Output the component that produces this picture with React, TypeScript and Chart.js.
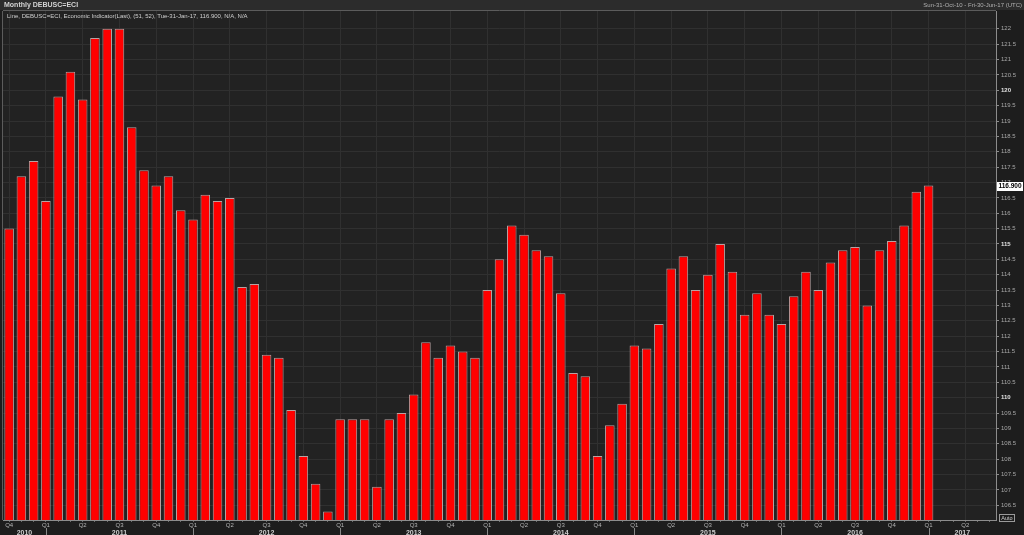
import React, { useEffect, useRef } from 'react';
import { Chart, registerables } from 'chart.js';

Chart.register(...registerables);

// ---- Data ----
const MONTHS = [
  'Oct-10', 'Nov-10', 'Dec-10',
  'Jan-11', 'Feb-11', 'Mar-11', 'Apr-11', 'May-11', 'Jun-11', 'Jul-11', 'Aug-11', 'Sep-11', 'Oct-11', 'Nov-11', 'Dec-11',
  'Jan-12', 'Feb-12', 'Mar-12', 'Apr-12', 'May-12', 'Jun-12', 'Jul-12', 'Aug-12', 'Sep-12', 'Oct-12', 'Nov-12', 'Dec-12',
  'Jan-13', 'Feb-13', 'Mar-13', 'Apr-13', 'May-13', 'Jun-13', 'Jul-13', 'Aug-13', 'Sep-13', 'Oct-13', 'Nov-13', 'Dec-13',
  'Jan-14', 'Feb-14', 'Mar-14', 'Apr-14', 'May-14', 'Jun-14', 'Jul-14', 'Aug-14', 'Sep-14', 'Oct-14', 'Nov-14', 'Dec-14',
  'Jan-15', 'Feb-15', 'Mar-15', 'Apr-15', 'May-15', 'Jun-15', 'Jul-15', 'Aug-15', 'Sep-15', 'Oct-15', 'Nov-15', 'Dec-15',
  'Jan-16', 'Feb-16', 'Mar-16', 'Apr-16', 'May-16', 'Jun-16', 'Jul-16', 'Aug-16', 'Sep-16', 'Oct-16', 'Nov-16', 'Dec-16',
  'Jan-17', 'Feb-17', 'Mar-17', 'Apr-17', 'May-17', 'Jun-17',
];

const VALUES: (number | null)[] = [
  115.5, 117.2, 117.7,
  116.4, 119.8, 120.6, 119.7, 121.7, 122.0, 122.0, 118.8, 117.4, 116.9, 117.2, 116.1,
  115.8, 116.6, 116.4, 116.5, 113.6, 113.7, 111.4, 111.3, 109.6, 108.1, 107.2, 106.3,
  109.3, 109.3, 109.3, 107.1, 109.3, 109.5, 110.1, 111.8, 111.3, 111.7, 111.5, 111.3,
  113.5, 114.5, 115.6, 115.3, 114.8, 114.6, 113.4, 110.8, 110.7, 108.1, 109.1, 109.8,
  111.7, 111.6, 112.4, 114.2, 114.6, 113.5, 114.0, 115.0, 114.1, 112.7, 113.4, 112.7,
  112.4, 113.3, 114.1, 113.5, 114.4, 114.8, 114.9, 113.0, 114.8, 115.1, 115.6, 116.7,
  116.9, null, null, null, null, null,
];

const Y_TICKS = [
  106.5, 107, 107.5, 108, 108.5, 109, 109.5, 110, 110.5, 111, 111.5, 112, 112.5, 113, 113.5,
  114, 114.5, 115, 115.5, 116, 116.5, 117, 117.5, 118, 118.5, 119, 119.5, 120, 120.5, 121, 121.5, 122,
];

const QUARTER_OF: Record<string, string> = {
  Jan: 'Q1', Apr: 'Q2', Jul: 'Q3', Oct: 'Q4',
};

const TITLE = 'Monthly DEBUSC=ECI';
const LEGEND_TEXT = 'Line, DEBUSC=ECI, Economic Indicator(Last), (51, 52), Tue-31-Jan-17, 116.900, N/A, N/A';
const RANGE_TEXT = 'Sun-31-Oct-10 - Fri-30-Jun-17 (UTC)';
const LAST_VALUE = 116.9;
const LAST_LABEL = '116.900';

const FONT = '"Liberation Sans", Arial, sans-serif';

const overlayPlugin = {
  id: 'overlay',
  beforeDraw(chart: any) {
    const { ctx, chartArea: a } = chart;
    ctx.save();
    ctx.fillStyle = '#1d1d1d';
    ctx.fillRect(0, 0, chart.width, chart.height);
    ctx.fillStyle = '#2c2c2c';
    ctx.fillRect(0, 0, chart.width, a.top - 1);
    ctx.fillStyle = '#222222';
    ctx.fillRect(a.left, a.top, a.right - a.left, a.bottom - a.top);
    ctx.restore();
  },
  afterDraw(chart: any) {
    const { ctx, chartArea: a } = chart;
    const xs = chart.scales.x;
    const ys = chart.scales.y;
    ctx.save();

    // frame top / left
    ctx.strokeStyle = '#5c5c5c';
    ctx.lineWidth = 1;
    ctx.beginPath();
    ctx.moveTo(a.left, a.top - 0.5);
    ctx.lineTo(a.right, a.top - 0.5);
    ctx.moveTo(a.left - 0.5, a.top);
    ctx.lineTo(a.left - 0.5, a.bottom);
    ctx.stroke();

    // header
    ctx.textBaseline = 'middle';
    ctx.textAlign = 'left';
    ctx.fillStyle = '#d2d2d2';
    ctx.font = `bold 7px ${FONT}`;
    ctx.fillText(TITLE, 4, 5);
    ctx.textAlign = 'right';
    ctx.fillStyle = '#b0b0b0';
    ctx.font = `6px ${FONT}`;
    ctx.fillText(RANGE_TEXT, 1022, 5.5);

    // legend line
    ctx.textAlign = 'left';
    ctx.fillStyle = '#cfcfcf';
    ctx.font = `6px ${FONT}`;
    ctx.fillText(LEGEND_TEXT, 7, 16);

    // quarter labels
    ctx.textAlign = 'center';
    ctx.font = `6px ${FONT}`;
    ctx.fillStyle = '#b4b4b4';
    MONTHS.forEach((m, i) => {
      const q = QUARTER_OF[m.slice(0, 3)];
      if (q) {
        ctx.fillText(q, xs.getPixelForValue(i), 525.5);
      }
    });

    // year labels and year ticks
    const janIdx: number[] = [];
    MONTHS.forEach((m, i) => { if (m.startsWith('Jan')) janIdx.push(i); });
    const years: { label: string; from: number; to: number }[] = [];
    const firstYear = '20' + MONTHS[0].slice(4);
    years.push({ label: firstYear, from: a.left, to: janIdx.length ? xs.getPixelForValue(janIdx[0]) : a.right });
    janIdx.forEach((ji, k) => {
      const from = xs.getPixelForValue(ji);
      const to = k + 1 < janIdx.length ? xs.getPixelForValue(janIdx[k + 1]) : a.right;
      years.push({ label: '20' + MONTHS[ji].slice(4), from, to });
    });
    ctx.font = `bold 7px ${FONT}`;
    ctx.fillStyle = '#cdcdcd';
    years.forEach((y) => {
      ctx.fillText(y.label, (y.from + y.to) / 2, 533);
    });
    ctx.strokeStyle = '#8a8a8a';
    ctx.beginPath();
    janIdx.forEach((ji) => {
      const x = Math.round(xs.getPixelForValue(ji)) + 0.5;
      ctx.moveTo(x, 528);
      ctx.lineTo(x, 535);
    });
    ctx.stroke();

    // last value box
    const yv = ys.getPixelForValue(LAST_VALUE);
    ctx.fillStyle = '#ffffff';
    ctx.fillRect(997, Math.round(yv) - 4, 26, 9);
    ctx.fillStyle = '#000000';
    ctx.font = `bold 6.5px ${FONT}`;
    ctx.textAlign = 'center';
    ctx.fillText(LAST_LABEL, 1010, Math.round(yv) + 0.5);

    // Auto box
    ctx.strokeStyle = '#9a9a9a';
    ctx.strokeRect(999.5, 514.5, 15, 7);
    ctx.fillStyle = '#cfcfcf';
    ctx.font = `5.5px ${FONT}`;
    ctx.fillText('Auto', 1007, 518.5);

    ctx.restore();
  },
};

export default function App() {
  const ref = useRef<HTMLCanvasElement | null>(null);

  useEffect(() => {
    if (!ref.current) return;
    const chart = new Chart(ref.current, {
      type: 'bar',
      data: {
        labels: MONTHS,
        datasets: [
          {
            data: VALUES as any,
            backgroundColor: '#ff0000',
            borderColor: '#b8a2a2',
            borderWidth: 1,
            barPercentage: 0.78,
            categoryPercentage: 1,
          },
        ],
      },
      options: {
        animation: false,
        responsive: false,
        maintainAspectRatio: false,
        devicePixelRatio: 1,
        layout: { padding: { left: 3, top: 11, right: 0, bottom: 0 } },
        plugins: {
          legend: { display: false },
          tooltip: { enabled: false },
          title: { display: false },
        },
        scales: {
          x: {
            type: 'category',
            offset: true,
            grid: {
              offset: false,
              color: (c: any) => (c.index % 3 === 0 ? '#303030' : 'rgba(0,0,0,0)'),
              tickColor: '#6c6c6c',
              tickLength: 2,
              drawTicks: true,
            },
            border: { color: '#8c8c8c' },
            ticks: { display: false, autoSkip: false },
            afterFit: (s: any) => { s.height = 15; },
          },
          y: {
            position: 'right',
            min: 106.02,
            max: 122.58,
            afterBuildTicks: (s: any) => { s.ticks = Y_TICKS.map((v) => ({ value: v })); },
            grid: { color: '#303030', tickColor: '#8c8c8c', tickLength: 3 },
            border: { color: '#8c8c8c' },
            ticks: {
              padding: 2,
              color: (c: any) => (c.tick && c.tick.value % 5 === 0 ? '#e2e2e2' : '#a8a8a8'),
              font: (c: any) => ({
                family: FONT,
                size: 6,
                weight: c.tick && c.tick.value % 5 === 0 ? 'bold' : 'normal',
              }),
              callback: (v: any) => String(v),
            },
            afterFit: (s: any) => { s.width = 28; },
          },
        },
      },
      plugins: [overlayPlugin],
    } as any);
    return () => chart.destroy();
  }, []);

  return (
    <div style={{ position: 'fixed', left: 0, top: 0, width: 1024, height: 535, background: '#1d1d1d' }}>
      <canvas ref={ref} width={1024} height={535} style={{ display: 'block' }} />
    </div>
  );
}
